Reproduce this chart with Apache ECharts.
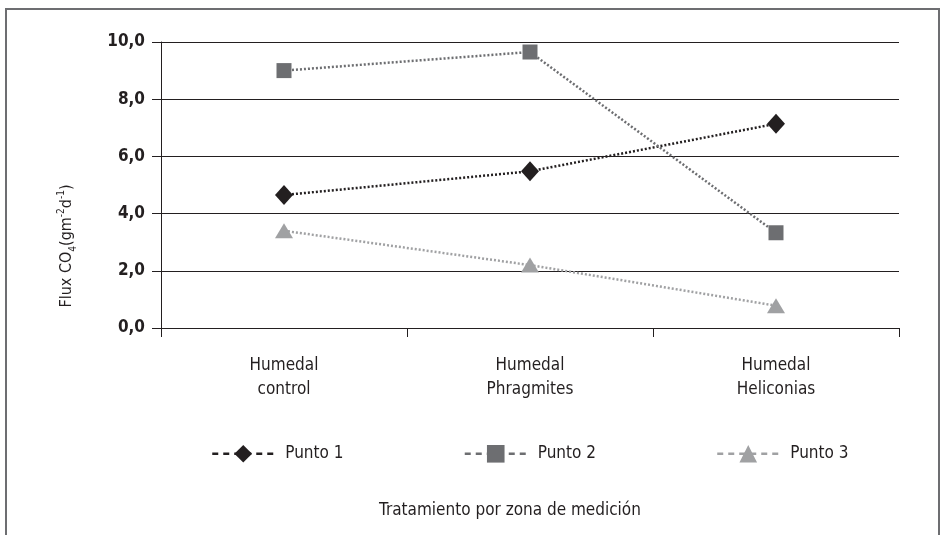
<!DOCTYPE html>
<html>
<head>
<meta charset="utf-8">
<script src="https://cdn.jsdelivr.net/npm/echarts@6/dist/echarts.min.js"></script>
<style>
html,body{margin:0;padding:0;background:#fff;}
#chart{width:941px;height:535px;}
</style>
</head>
<body>
<div id="chart"></div>
<script>
var categories = ['Humedal\ncontrol', 'Humedal\nPhragmites', 'Humedal\nHeliconias'];
var punto1 = [4.65, 5.48, 7.14];
var punto2 = [9.0, 9.65, 3.33];
var punto3 = [3.4, 2.2, 0.78];
var seriesNames = ['Punto 1', 'Punto 2', 'Punto 3'];
var yTicks = [0, 2, 4, 6, 8, 10];
var xTitle = 'Tratamiento por zona de medición';

var FONT = '"Liberation Sans Narrow", "DejaVu Sans Condensed", "Roboto Condensed", "Noto Sans", sans-serif';
var TXT = '#231f20';

var chart = echarts.init(document.getElementById('chart'));

function mkSeries(name, data, color, symbol, size) {
  return {
    name: name, type: 'line', data: data,
    symbol: symbol, symbolSize: size,
    itemStyle: {color: color},
    lineStyle: {color: color, width: 2.5, type: [2, 2]},
    animation: false
  };
}

chart.setOption({
  animation: false,
  textStyle: {fontFamily: FONT},
  grid: {left: 161, right: 42, top: 42, bottom: 207},
  xAxis: {
    type: 'category', data: categories, boundaryGap: true,
    axisLine: {lineStyle: {color: TXT, width: 1}},
    axisTick: {show: true, length: 9, lineStyle: {color: TXT}},
    axisLabel: {color: TXT, fontSize: 17, fontFamily: FONT, margin: 26, lineHeight: 24}
  },
  yAxis: {
    type: 'value', min: yTicks[0], max: yTicks[yTicks.length - 1], interval: 2,
    axisLine: {show: true, lineStyle: {color: TXT, width: 1}},
    axisTick: {show: true, length: 9, lineStyle: {color: TXT}},
    splitLine: {show: true, lineStyle: {color: TXT, width: 1}},
    axisLabel: {
      color: TXT, fontSize: 17, fontFamily: FONT, fontWeight: 'bold', margin: 16,
      formatter: function (v) { return v.toFixed(1).replace('.', ','); }
    }
  },
  legend: {
    data: seriesNames, left: 206, top: 440,
    itemWidth: 62, itemHeight: 22, itemGap: 120,
    lineStyle: {type: [6, 5], width: 2.5},
    textStyle: {color: TXT, fontSize: 17, fontFamily: FONT, padding: [0, 0, 0, 6]}
  },
  series: [
    mkSeries(seriesNames[0], punto1, '#231f20', 'diamond', [18, 20]),
    mkSeries(seriesNames[1], punto2, '#6d6e71', 'rect', 15),
    mkSeries(seriesNames[2], punto3, '#a0a1a3', 'triangle', [18, 15])
  ],
  graphic: [
    {type: 'rect', shape: {x: 6, y: 9, width: 933, height: 560}, style: {fill: null, stroke: '#6d6e71', lineWidth: 2}, silent: true},
    {type: 'text', x: 510, y: 511,
      style: {text: xTitle, fill: TXT, font: '17px ' + FONT, align: 'center', verticalAlign: 'middle'}},
    {type: 'text', x: 67, y: 246, rotation: Math.PI / 2,
      style: {
        text: 'Flux CO{sub|4}(gm{sup|-2}d{sup|-1})',
        fill: TXT, font: '16px ' + FONT, align: 'center', verticalAlign: 'middle',
        lineHeight: 22,
        rich: {
          sub: {fontSize: 10, fontFamily: FONT, fill: TXT, verticalAlign: 'bottom', lineHeight: 22},
          sup: {fontSize: 10, fontFamily: FONT, fill: TXT, verticalAlign: 'top', lineHeight: 22}
        }
      }}
  ]
});
</script>
</body>
</html>
